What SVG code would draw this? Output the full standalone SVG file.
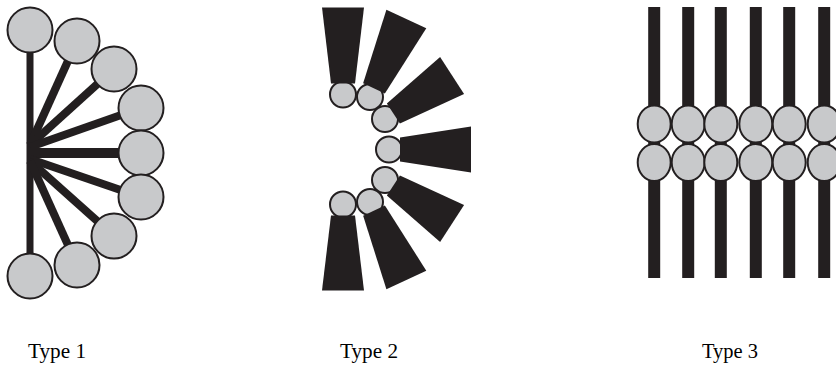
<svg xmlns="http://www.w3.org/2000/svg" width="836" height="365" viewBox="0 0 836 365">
<style>
.ball{fill:#c8c9cb;stroke:#231f20;stroke-width:2}
.spoke{stroke:#231f20;stroke-width:8;stroke-linecap:butt}
.blk{fill:#231f20}
.lbl{font-family:"Liberation Serif","Times New Roman",serif;font-size:20px;fill:#000}
</style>
<g id="connectors">
<line class="spoke" x1="30" y1="30" x2="30" y2="276" style="stroke-width:7"/>
<line class="spoke" x1="30" y1="145" x2="77" y2="41"/>
<line class="spoke" x1="30" y1="145" x2="114" y2="69"/>
<line class="spoke" x1="30" y1="147" x2="141" y2="108"/>
<line class="spoke" x1="30" y1="153" x2="141" y2="153" style="stroke-width:10"/>
<line class="spoke" x1="30" y1="159" x2="141" y2="197"/>
<line class="spoke" x1="30" y1="161" x2="114" y2="236"/>
<line class="spoke" x1="30" y1="161" x2="77" y2="265"/>
</g>
<g id="type1">
<circle class="ball" cx="30" cy="30" r="22.5"/>
<circle class="ball" cx="77" cy="41" r="22.5"/>
<circle class="ball" cx="114" cy="69" r="22.5"/>
<circle class="ball" cx="141" cy="108" r="22.5"/>
<circle class="ball" cx="141" cy="153" r="22.5"/>
<circle class="ball" cx="141" cy="197" r="22.5"/>
<circle class="ball" cx="114" cy="236" r="22.5"/>
<circle class="ball" cx="77" cy="265" r="22.5"/>
<circle class="ball" cx="30" cy="276" r="22.5"/>
</g>
<g id="type2">
<circle class="ball" cx="343" cy="94.5" r="13"/>
<circle class="ball" cx="370" cy="97" r="13"/>
<circle class="ball" cx="385" cy="119" r="13"/>
<circle class="ball" cx="389" cy="149.5" r="13"/>
<circle class="ball" cx="385" cy="180" r="13"/>
<circle class="ball" cx="370" cy="202" r="13"/>
<circle class="ball" cx="343" cy="204.5" r="13"/>
<polygon class="blk" transform="translate(343,94.5) rotate(-90)" points="11,-12 87,-21 87,21 11,12"/>
<polygon class="blk" transform="translate(370,97) rotate(-65)" points="9.5,-12 86,-22 86,22 9.5,12"/>
<polygon class="blk" transform="translate(385,119) rotate(-33)" points="10,-12 80,-22 80,22 10,12"/>
<polygon class="blk" transform="translate(389,149.5) rotate(0)" points="11,-12 82,-23 82,23 11,12"/>
<polygon class="blk" transform="translate(385,180) rotate(33)" points="10,-12 80,-22 80,22 10,12"/>
<polygon class="blk" transform="translate(370,202) rotate(65)" points="9.5,-12 86,-22 86,22 9.5,12"/>
<polygon class="blk" transform="translate(343,204.5) rotate(90)" points="11,-12 86,-21 86,21 11,12"/>
</g>
<g id="type3">
<rect class="blk" x="648.2" y="7" width="12" height="271"/>
<rect class="blk" x="682.2" y="7" width="12" height="271"/>
<rect class="blk" x="714.8" y="7" width="12" height="271"/>
<rect class="blk" x="749.8" y="7" width="12" height="271"/>
<rect class="blk" x="783.2" y="7" width="12" height="271"/>
<rect class="blk" x="818.2" y="7" width="12" height="271"/>
<ellipse class="ball" cx="654.2" cy="124" rx="16.5" ry="18.5"/>
<ellipse class="ball" cx="688.2" cy="124" rx="16.5" ry="18.5"/>
<ellipse class="ball" cx="720.8" cy="124" rx="16.5" ry="18.5"/>
<ellipse class="ball" cx="755.8" cy="124" rx="16.5" ry="18.5"/>
<ellipse class="ball" cx="789.2" cy="124" rx="16.5" ry="18.5"/>
<ellipse class="ball" cx="824.2" cy="124" rx="16.5" ry="18.5"/>
<ellipse class="ball" cx="654.2" cy="162.5" rx="16.5" ry="18.5"/>
<ellipse class="ball" cx="688.2" cy="162.5" rx="16.5" ry="18.5"/>
<ellipse class="ball" cx="720.8" cy="162.5" rx="16.5" ry="18.5"/>
<ellipse class="ball" cx="755.8" cy="162.5" rx="16.5" ry="18.5"/>
<ellipse class="ball" cx="789.2" cy="162.5" rx="16.5" ry="18.5"/>
<ellipse class="ball" cx="824.2" cy="162.5" rx="16.5" ry="18.5"/>
</g>
<g id="labels">
<text class="lbl" x="28" y="358" textLength="58" lengthAdjust="spacingAndGlyphs">Type 1</text>
<text class="lbl" x="340" y="358" textLength="58" lengthAdjust="spacingAndGlyphs">Type 2</text>
<text class="lbl" x="702" y="358" textLength="56" lengthAdjust="spacingAndGlyphs">Type 3</text>
</g>
</svg>
